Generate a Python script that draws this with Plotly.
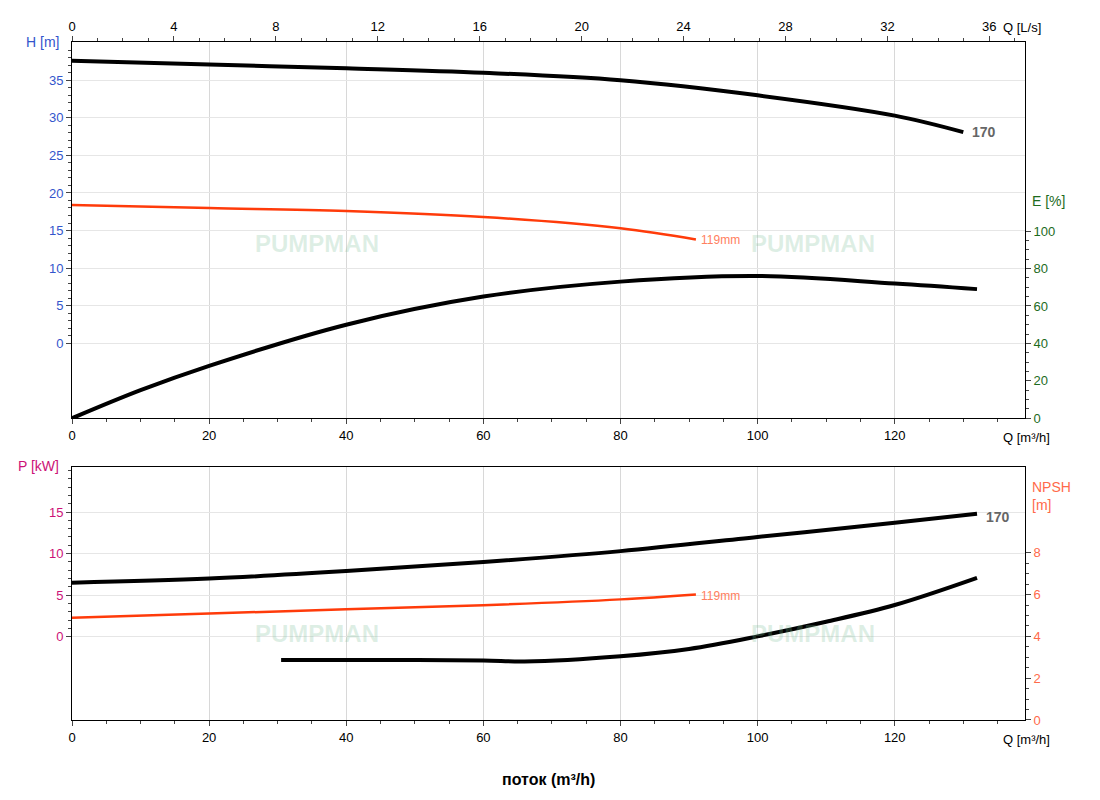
import plotly.graph_objects as go

# data
q_h170 = [0, 20, 40, 60, 80, 100, 120, 130]
h_170 = [37.6, 37.1, 36.6, 36.0, 35.0, 33.0, 30.3, 28.1]
q_h119 = [0, 20, 40, 60, 80, 91]
h_119 = [18.4, 18.0, 17.6, 16.8, 15.3, 13.8]
q_eff = [0, 10, 20, 40, 60, 80, 100, 120, 132]
eff = [0, 15, 28, 50, 65, 73, 76, 72, 69]
q_p170 = [0, 20, 40, 60, 80, 100, 120, 132]
p_170 = [6.5, 7.0, 7.9, 9.0, 10.3, 12.0, 13.7, 14.8]
q_p119 = [0, 20, 40, 60, 80, 91]
p_119 = [2.3, 2.8, 3.3, 3.8, 4.5, 5.1]
q_npsh = [30.5, 45, 60, 66, 80, 90, 100, 110, 120, 132]
npsh = [2.87, 2.87, 2.85, 2.8, 3.05, 3.4, 4.0, 4.7, 5.5, 6.8]

FONT = "Liberation Sans, Arial"
fig = go.Figure()

line_k = dict(color="black", width=4, shape="spline")
line_r = dict(color="#ff3b0a", width=2.5, shape="spline")

def curve(x, y, line, xa, ya):
    fig.add_trace(go.Scatter(x=x, y=y, mode="lines", line=line, xaxis=xa, yaxis=ya,
                             hoverinfo="skip"))

curve(q_h170, h_170, line_k, "x", "y")
curve(q_h119, h_119, line_r, "x", "y")
curve(q_eff, eff, line_k, "x", "y2")
curve(q_p170, p_170, line_k, "x3", "y3")
curve(q_p119, p_119, line_r, "x3", "y3")
curve(q_npsh, npsh, line_k, "x3", "y4")
# invisible trace so the top L/s axis is drawn
fig.add_trace(go.Scatter(x=[0], y=[0], mode="markers", marker=dict(opacity=0),
                         xaxis="x2", yaxis="y", hoverinfo="skip"))

ax = dict(showline=True, linecolor="black", linewidth=1, ticks="outside",
          ticklen=5, tickfont=dict(size=13, color="black"), zeroline=False,
          automargin=False,
          minor=dict(ticks="outside", ticklen=3, showgrid=False))
qx = dict(ax, range=[0, 139], dtick=20, gridcolor="#d8d8d8", mirror=True)

top = [0.445, 1]
bot = [0, 0.373]
fig.update_layout(
    width=1100, height=800, showlegend=False,
    paper_bgcolor="white", plot_bgcolor="white",
    font=dict(family=FONT, size=13),
    margin=dict(l=64, r=83, t=34, b=88),
    xaxis=dict(qx, domain=[0, 1], anchor="y", minor=dict(ax["minor"], dtick=5)),
    xaxis2=dict(ax, range=[0, 37.4], dtick=4, overlaying="x", side="top",
                anchor="y", showgrid=False, minor=dict(ax["minor"], dtick=1)),
    yaxis=dict(ax, domain=top, range=[-10, 40.1], tickvals=[0, 5, 10, 15, 20, 25, 30, 35],
               gridcolor="#e6e6e6", tickfont=dict(size=13, color="#3355cc"),
               minor=dict(ax["minor"], tickvals=[i for i in range(0, 40)])),
    yaxis2=dict(ax, domain=top, range=[0, 201], tickvals=[0, 20, 40, 60, 80, 100],
                overlaying="y", side="right", anchor="x", showgrid=False,
                tickfont=dict(size=13, color="#1d6b1d"),
                minor=dict(ax["minor"], tickvals=[i for i in range(0, 101, 5)])),
    xaxis3=dict(qx, anchor="y3", minor=dict(ax["minor"], dtick=5)),
    yaxis3=dict(ax, domain=bot, range=[-10, 20.4], tickvals=[0, 5, 10, 15],
                gridcolor="#e6e6e6", tickfont=dict(size=13, color="#cc1177"),
                minor=dict(ax["minor"], tickvals=[i for i in range(0, 21)])),
    yaxis4=dict(ax, domain=bot, range=[0, 12.1], tickvals=[0, 2, 4, 6, 8],
                overlaying="y3", side="right", anchor="x3", showgrid=False,
                tickfont=dict(size=13, color="#ff6a4a"),
                minor=dict(ax["minor"], tickvals=[i * 0.5 for i in range(0, 17)])),
)

ann = []
def lab(x, y, text, color="black", size=13, xa="paper", ya="paper", **kw):
    ann.append(dict(x=x, y=y, xref=xa, yref=ya, text=text, showarrow=False,
                    font=dict(color=color, size=size, family=FONT), **kw))

# axis titles
lab(-0.012, 1.0, "H [m]", "#3355cc", 14, xanchor="right", yanchor="middle")
lab(0.975, 1.008, "Q [L/s]", "black", 13, xanchor="left", yanchor="bottom")
lab(1.005, 0.765, "E [%]", "#1d6b1d", 14, xanchor="left", yanchor="middle")
lab(0.975, 0.43, "Q [m³/h]", "black", 13, xanchor="left", yanchor="top")
lab(-0.012, 0.375, "P [kW]", "#cc1177", 14, xanchor="right", yanchor="middle")
lab(1.005, 0.33, "NPSH<br>[m]", "#ff6a4a", 14, xanchor="left", yanchor="middle", align="left")
lab(0.975, -0.015, "Q [m³/h]", "black", 13, xanchor="left", yanchor="top")
lab(0.5, -0.072, "<b>поток (m³/h)</b>", "black", 16, yanchor="top")

# curve labels
lab(q_h170[-1] + 1, h_170[-1], "<b>170</b>", "#666666", 14, "x", "y", xanchor="left")
lab(q_h119[-1] + 0.5, h_119[-1], "119mm", "#ff8060", 12, "x", "y", xanchor="left")
lab(q_p170[-1] + 1, p_170[-1] - 0.4, "<b>170</b>", "#666666", 14, "x3", "y3", xanchor="left")
lab(q_p119[-1] + 0.5, p_119[-1] - 0.2, "119mm", "#ff8060", 12, "x3", "y3", xanchor="left")

# watermarks
for xp, yp in [(0.19, 0.725), (0.845, 0.725), (0.19, 0.105), (0.845, 0.105)]:
    lab(xp, yp, "<b>PUMPMAN</b>", "rgba(120,190,150,0.25)", 24)

fig.update_layout(annotations=ann)
fig.write_html("out.html")
